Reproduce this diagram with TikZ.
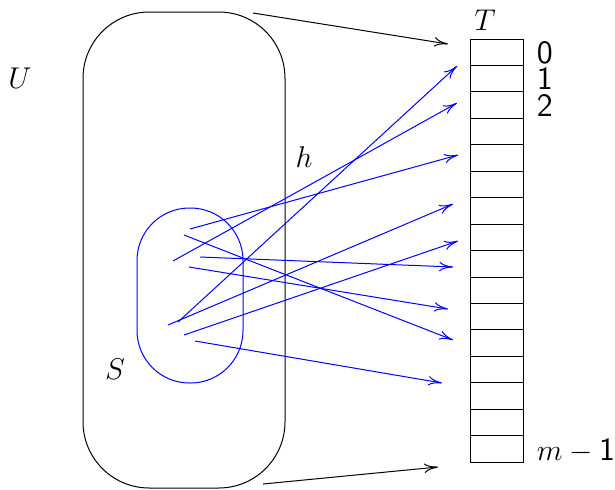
\documentclass[tikz,border=0pt]{standalone}
\usetikzlibrary{arrows.meta}
\begin{document}
\begin{tikzpicture}[x=0.4pt,y=-0.4pt,>={To[length=5.5pt,width=3.8pt]},
  every node/.style={font=\fontsize{13}{16}\selectfont},
  cell/.style={draw,minimum width=21.2pt,minimum height=10.58pt,inner sep=0pt,outer sep=0pt,anchor=north west},
  idx/.style={font=\fontsize{13}{16}\selectfont\sffamily,anchor=west,xshift=2pt,
    inner ysep=0pt,text height=9pt,text depth=0pt}]
\useasboundingbox (0,0) rectangle (615,489);
% universe U and the subset S
\draw[rounded corners=26.5pt] (83,12) rectangle (285,488);
\draw[blue,rounded corners=21pt] (137,208) rectangle (243,383);
\node (U) at (20,78) {$U$};
\node (S) at (115,369) {$S$};
\node (h) at (304,157) {$h$};
% the table T
\foreach \i in {0,...,15}
  \node[cell] (c\i) at (470,{39+26.45*\i}) {};
\node (T) at (485,20) {$T$};
\node[idx] at (c0.east) {0};
\node[idx] at (c1.east) {1};
\node[idx] at (c2.east) {2};
\node[idx] at (c15.east) {$m-\textsf{1}$};
% h maps U onto T
\coordinate (ua) at (253,13);
\coordinate (ta) at (448,44);
\coordinate (ub) at (263,484);
\coordinate (tb) at (438,467);
\draw[->] (ua) -- (ta);
\draw[->] (ub) -- (tb);
% keys of S
\foreach \n/\a/\b/\c/\d in {1/190/229/458/155, 2/173/261/457/103, 3/178/322/457/66,
    4/168/325/453/204, 5/184/335/458/241, 6/200/257/453/267,
    7/189/267/448/309, 8/184/235/453/340, 9/195/341/442/383}{
  \coordinate (s\n) at (\a,\b);
  \coordinate (e\n) at (\c,\d);
  \draw[blue,->] (s\n) -- (e\n);
}
\end{tikzpicture}
\end{document}
